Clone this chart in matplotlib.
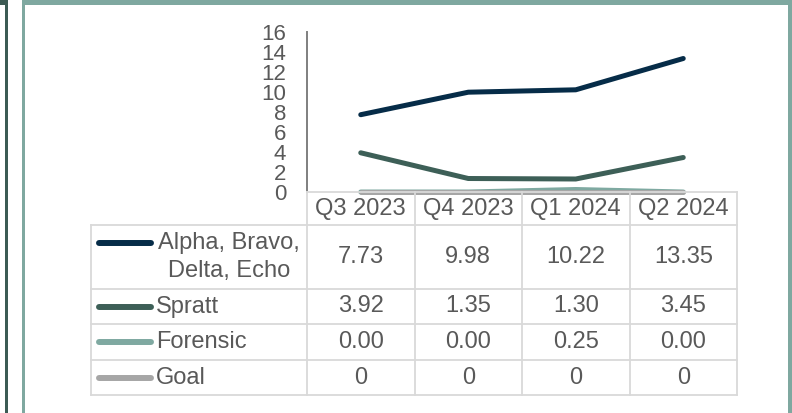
import matplotlib
matplotlib.use("Agg")
import matplotlib.pyplot as plt
from matplotlib.lines import Line2D
from matplotlib.patches import Rectangle
from matplotlib.transforms import blended_transform_factory

plt.rcParams['font.family'] = ['Liberation Sans', 'DejaVu Sans']

# ---------------- data ----------------
categories = ["Q3 2023", "Q4 2023", "Q1 2024", "Q2 2024"]
series_names = ["Alpha, Bravo,\nDelta, Echo", "Spratt", "Forensic", "Goal"]
alpha_vals = [7.73, 9.98, 10.22, 13.35]
spratt_vals = [3.92, 1.35, 1.30, 3.45]
forensic_vals = [0.00, 0.00, 0.25, 0.00]
goal_vals = [0, 0, 0, 0]
table_labels = [
    ["7.73", "9.98", "10.22", "13.35"],
    ["3.92", "1.35", "1.30", "3.45"],
    ["0.00", "0.00", "0.25", "0.00"],
    ["0", "0", "0", "0"],
]
y_ticks = [0, 2, 4, 6, 8, 10, 12, 14, 16]

# ---------------- style ----------------
colors = ["#062c48", "#3d5f57", "#7fa9a1", "#a6a6a6"]
text_color = "#595959"
grid_color = "#d9d9d9"
frame_teal = "#7fa8a0"
frame_dark = "#3c5b54"
FS = 17
TICK_FS = 16

W, H = 792, 413
fig = plt.figure(figsize=(W / 100, H / 100), dpi=100)


def fx(px):
    return px / W


def fy(py):
    return 1 - py / H


# frame decorations
fig.add_artist(Rectangle((fx(5), 0), fx(2.5), 1, transform=fig.transFigure,
                         color=frame_dark, lw=0))
fig.add_artist(Rectangle((0, fy(5)), fx(7.5), fy(0) - fy(5), transform=fig.transFigure,
                         color=frame_dark, lw=0))
fig.add_artist(Rectangle((fx(22), 0), fx(3), 1, transform=fig.transFigure,
                         color=frame_teal, lw=0))
fig.add_artist(Rectangle((fx(22), fy(5)), 1, fy(0) - fy(5), transform=fig.transFigure,
                         color=frame_teal, lw=0))
fig.add_artist(Rectangle((fx(788), 0), fx(4), 1, transform=fig.transFigure,
                         color=frame_teal, lw=0))

# plot area
ax_l, ax_r, ax_t, ax_b = 307, 737, 32, 192
ax = fig.add_axes([fx(ax_l), fy(ax_b), fx(ax_r) - fx(ax_l), fy(ax_t) - fy(ax_b)])
ax.set_xlim(-0.5, len(categories) - 0.5)
ax.set_ylim(0, 16)
for s in ["top", "right", "bottom"]:
    ax.spines[s].set_visible(False)
ax.spines["left"].set_color("#7f7f7f")
ax.spines["left"].set_linewidth(1.4)
ax.set_xticks([])
ax.set_yticks(y_ticks)
ax.set_yticklabels([str(v) for v in y_ticks])
ax.tick_params(axis="y", length=0, pad=15, labelsize=TICK_FS, labelcolor=text_color)
ax.patch.set_alpha(0)

x = list(range(len(categories)))
all_vals = [alpha_vals, spratt_vals, forensic_vals, goal_vals]
zorders = [5, 4, 3, 3.5]
for vals, c, z in zip(all_vals, colors, zorders):
    ax.plot(x, vals, color=c, lw=3.6, solid_capstyle="round",
            solid_joinstyle="round", clip_on=False, zorder=z)

# ---------------- data table ----------------
tr = blended_transform_factory(ax.transData, fig.transFigure)
row_bounds = [192, 225, 289, 324, 360, 395]
left_px = 91
lw_grid = 1.3

# horizontal lines
fig.add_artist(Line2D([-0.5, len(categories) - 0.5], [fy(row_bounds[0])] * 2,
                      transform=tr, color=grid_color, lw=lw_grid, zorder=1))
for yb in row_bounds[1:]:
    fig.add_artist(Line2D([fx(left_px), fx(ax_r)], [fy(yb)] * 2,
                          transform=fig.transFigure, color=grid_color, lw=lw_grid, zorder=1))
# vertical lines
fig.add_artist(Line2D([fx(left_px)] * 2, [fy(row_bounds[1]), fy(row_bounds[-1])],
                      transform=fig.transFigure, color=grid_color, lw=lw_grid, zorder=1))
for i in range(len(categories) + 1):
    fig.add_artist(Line2D([i - 0.5] * 2, [fy(row_bounds[0]), fy(row_bounds[-1])],
                          transform=tr, color=grid_color, lw=lw_grid, zorder=1))

# header
hdr_y = (row_bounds[0] + row_bounds[1]) / 2
for i, cat in enumerate(categories):
    fig.text(i, fy(hdr_y), cat, transform=tr, ha="center", va="center",
             fontsize=FS, color=text_color)

# rows
for r, (name, labels, c) in enumerate(zip(series_names, table_labels, colors)):
    yc = (row_bounds[r + 1] + row_bounds[r + 2]) / 2
    for i, lab in enumerate(labels):
        fig.text(i, fy(yc), lab, transform=tr, ha="center", va="center",
                 fontsize=FS, color=text_color)
    if "\n" in name:
        key_y = 243
        fig.text(fx(229), fy(yc), name, ha="center", va="center", fontsize=FS,
                 color=text_color, linespacing=1.3, transform=fig.transFigure)
    else:
        key_y = yc
        fig.text(fx(156), fy(yc), name, ha="left", va="center", fontsize=FS,
                 color=text_color, transform=fig.transFigure)
    fig.add_artist(Line2D([fx(99), fx(151)], [fy(key_y)] * 2, transform=fig.transFigure,
                          color=c, lw=4.3, solid_capstyle="round"))

fig.savefig("out.png", dpi=100, facecolor="white")
